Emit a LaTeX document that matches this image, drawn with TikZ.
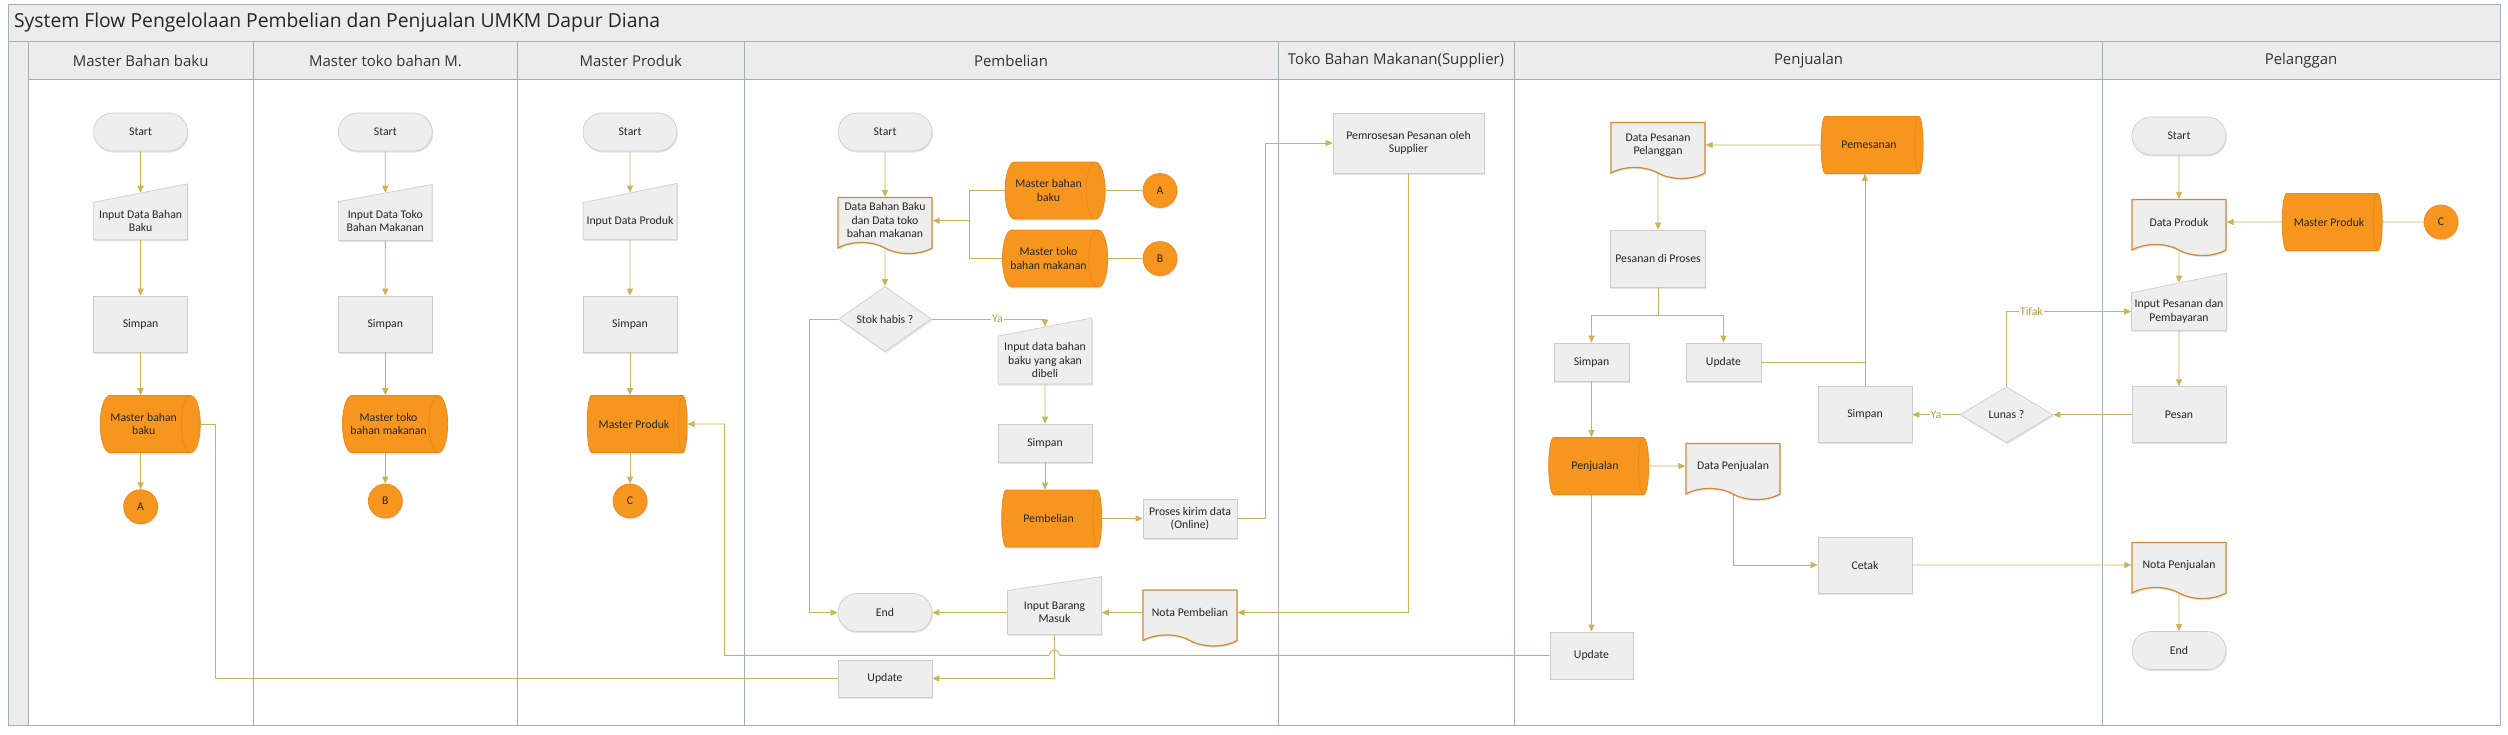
\documentclass[tikz,border=0pt]{standalone}
\usepackage{fontspec}
\setmainfont{Carlito}
\newfontfamily\headfont{Open Sans}
\usetikzlibrary{shapes.geometric,shapes.symbols,shadows,arrows.meta}

\definecolor{flow}{RGB}{201,180,88}
\definecolor{yatxt}{RGB}{184,160,64}
\definecolor{oranye}{RGB}{247,150,30}
\definecolor{oranyeline}{RGB}{232,137,22}
\definecolor{boxfill}{RGB}{238,238,238}
\definecolor{boxline}{RGB}{205,205,205}
\definecolor{docline}{RGB}{212,138,48}
\definecolor{laneline}{RGB}{163,175,180}
\definecolor{headfill}{RGB}{236,236,236}

\begin{document}
\begin{tikzpicture}[x=0.02cm, y=-0.02cm,
    every node/.style={font=\fontsize{6.7}{7.6}\selectfont, text=black!85, align=center, inner sep=1pt},
    boxshadow/.style={drop shadow={shadow xshift=0.5pt, shadow yshift=-0.9pt, opacity=0.22}},
    term/.style={rectangle, rounded corners=0.38cm, draw=boxline, fill=boxfill, minimum width=1.88cm, minimum height=0.76cm, boxshadow},
    proc/.style={rectangle, draw=boxline, fill=boxfill, minimum width=1.88cm, minimum height=1.12cm, boxshadow},
    manin/.style={trapezium, shape border rotate=90, trapezium left angle=90, trapezium right angle=78, trapezium stretches body, draw=boxline, fill=boxfill, minimum width=1.12cm, minimum height=1.88cm, boxshadow},
    docu/.style={tape, tape bend top=none, tape bend bottom=out and in, tape bend height=0.22cm, draw=docline, line width=0.7pt, fill=boxfill, minimum width=1.88cm, minimum height=1.12cm, boxshadow},
    cyl/.style={cylinder, shape aspect=0.75, draw=oranyeline, fill=oranye, minimum width=1.14cm, minimum height=2cm, boxshadow},
    con/.style={circle, fill=oranye, draw=oranyeline, minimum size=0.68cm, inner sep=0pt, boxshadow},
    dec/.style={diamond, draw=boxline, fill=boxfill, minimum width=1.86cm, minimum height=1.12cm, inner sep=0pt, boxshadow},
    arr/.style={draw=flow, line width=0.5pt, -{Triangle[length=4pt, width=3.5pt]}},
    ln/.style={draw=flow, line width=0.5pt},
    lbl/.style={fill=white, text=yatxt, inner sep=0.6pt},
    hd/.style={font=\headfont\fontsize{8.5}{10}\selectfont, text=black!80}]

    \useasboundingbox (0,0) rectangle (2508,734);

    \fill[headfill] (8.7,4) rectangle (2500,79.3);
    \fill[headfill] (8.7,41.7) rectangle (28,725.7);
    \draw[laneline] (8.7,4) rectangle (2500,725.7);
    \draw[laneline] (8.7,41.7) -- (2500,41.7);
    \draw[laneline] (28,79.3) -- (2500,79.3);
    \draw[laneline] (28,41.7) -- (28,725.7);
    \foreach \x in {253.5,517.6,744,1278,1514.6,2102.5}
        \draw[laneline] (\x,41.7) -- (\x,725.7);

    \node[anchor=west, font=\headfont\fontsize{11}{13}\selectfont, text=black!85] (judul) at (12,22) {System Flow Pengelolaan Pembelian dan Penjualan UMKM Dapur Diana};
    \foreach \x/\t [count=\i] in {140.7/Master Bahan baku, 385.5/Master toko bahan M., 630.8/Master Produk, 1011/Pembelian, 1396/Toko Bahan Makanan(Supplier), 1808.5/Penjualan, 2301/Pelanggan}
        \node[hd] (h\i) at (\x,60.5) {\t};

    \node[term] (s1) at (140.6,132) {Start};
    \node[manin] (in1) at (140.6,221) {Input Data Bahan\\Baku};
    \node[proc] (sp1) at (140.6,324) {Simpan};
    \node[cyl] (m1) at (143.7,424) {Master bahan\\baku};
    \node[con] (k1) at (140.6,506.7) {A};

    \node[term] (s2) at (385.3,132) {Start};
    \node[manin] (in2) at (385.3,221) {Input Data Toko\\Bahan Makanan};
    \node[proc] (sp2) at (385.3,324) {Simpan};
    \node[cyl] (m2) at (388.5,424) {Master toko\\bahan makanan};
    \node[con] (k2) at (385.3,501) {B};

    \node[term] (s3) at (630,132) {Start};
    \node[manin] (in3) at (630,221) {Input Data Produk};
    \node[proc] (sp3) at (630,324) {Simpan};
    \node[cyl] (m3) at (634,424) {Master Produk};
    \node[con] (k3) at (630,501) {C};

    \node[term] (sP) at (885,132) {Start};
    \node[docu] (dbb) at (885,220) {Data Bahan Baku\\dan Data toko\\bahan makanan};
    \node[cyl] (mbP) at (1048.5,190.5) {Master bahan\\baku};
    \node[cyl] (mtP) at (1048.5,258.5) {Master toko\\bahan makanan};
    \node[con] (AP) at (1160,190.5) {A};
    \node[con] (BP) at (1160,258.5) {B};
    \node[dec] (stok) at (885,319) {Stok habis ?};
    \node[manin, minimum width=1.32cm] (idb) at (1045,360) {Input data bahan\\baku yang akan\\dibeli};
    \node[proc, minimum height=0.76cm] (spP) at (1045,443) {Simpan};
    \node[cyl] (pbl) at (1048.5,518.5) {Pembelian};
    \node[proc, minimum height=0.78cm] (pk) at (1190,518.5) {Proses kirim data\\(Online)};
    \node[term] (endP) at (885,612.5) {End};
    \node[manin, minimum width=1.16cm] (ibm) at (1054.5,612.5) {Input Barang\\Masuk};
    \node[docu] (nota) at (1190,612.5) {Nota Pembelian};
    \node[proc, minimum height=0.74cm] (updB) at (885,678.5) {Update};

    \node[proc, minimum width=3.02cm, minimum height=1.2cm] (psup) at (1408.5,143) {Pemrosesan Pesanan oleh\\Supplier};

    \node[docu] (dpp) at (1658,145) {Data Pesanan\\Pelanggan};
    \node[cyl, minimum height=2.04cm] (pem) at (1869,145) {Pemesanan};
    \node[proc, minimum width=1.9cm, minimum height=1.14cm] (pdp) at (1658,258.5) {Pesanan di Proses};
    \node[proc, minimum width=1.5cm, minimum height=0.76cm] (spJ) at (1591.5,362) {Simpan};
    \node[proc, minimum width=1.5cm, minimum height=0.76cm] (updJ) at (1723.5,362) {Update};
    \node[cyl] (pjl) at (1595,466) {Penjualan};
    \node[docu] (dpj) at (1733,466) {Data Penjualan};
    \node[proc] (cetak) at (1865,565) {Cetak};
    \node[proc, minimum width=1.66cm, minimum height=0.94cm] (updP) at (1591.5,655.4) {Update};
    \node[proc] (spR) at (1865,414.7) {Simpan};
    \node[dec] (lunas) at (2006.5,414.7) {Lunas ?};

    \node[term] (sPl) at (2179,136) {Start};
    \node[docu] (dpr) at (2179,222) {Data Produk};
    \node[cyl] (mpr) at (2329,222) {Master Produk};
    \node[con] (cC) at (2441,222) {C};
    \node[manin, minimum width=1.14cm, minimum height=1.9cm] (ips) at (2179,311.5) {Input Pesanan dan\\Pembayaran};
    \node[proc] (pesan) at (2179,414.7) {Pesan};
    \node[docu] (npj) at (2179,565) {Nota Penjualan};
    \node[term] (endPl) at (2179,650.5) {End};

    \foreach \i in {1,2,3} {
        \draw[arr] (s\i) -- (in\i);
        \draw[arr] (in\i) -- (sp\i);
        \draw[arr] (sp\i) -- (sp\i |- m\i.north);
        \draw[arr] (sp\i |- m\i.south) -- (k\i);
    }

    \draw[arr] (sP) -- (dbb);
    \draw[ln] (AP) -- (mbP);
    \draw[ln] (BP) -- (mtP);
    \coordinate (jP) at (969.6,220.7);
    \draw[ln] (mbP.west) -| (jP) |- (mtP.west);
    \draw[arr] (jP) -- (jP -| dbb.east);
    \draw[arr] (dbb) -- (stok);
    \draw[arr] (stok.east) -| node[lbl, pos=0.29] (ya1) {Ya} (idb);
    \coordinate (kP) at (809,319);
    \draw[arr] (stok.west) -- (kP) |- (endP);
    \draw[arr] (idb) -- (spP);
    \draw[arr] (spP) -- (spP |- pbl.north);
    \draw[arr] (pbl) -- (pk);
    \coordinate (kS) at (1265,518.5);
    \draw[arr] (pk) -- (kS) |- (psup);
    \draw[arr] (psup) |- (nota);
    \draw[arr] (nota) -- (ibm);
    \draw[arr] (ibm) -- (endP);
    \draw[arr] (ibm) |- (updB);
    \coordinate (kB) at (215.7,678.5);
    \draw[ln] (updB) -- (kB) |- (m1);
    \coordinate (hop) at (1060,655.4);
    \coordinate (kM) at (724.6,655.4);
    \draw[arr] (updP) -- (hop) arc[start angle=0, end angle=-180, radius=5.5] -- (kM) |- (m3);

    \draw[arr] (pem) -- (dpp);
    \draw[arr] (dpp) -- (pdp);
    \coordinate (kJ) at (1658,315);
    \draw[ln] (pdp) -- (kJ);
    \draw[arr] (kJ) -| (spJ);
    \draw[arr] (kJ) -| (updJ);
    \draw[arr] (spJ) -- (spJ |- pjl.north);
    \draw[arr] (pjl) -- (dpj);
    \draw[arr] (spJ |- pjl.south) -- (updP);
    \draw[arr] (dpj) |- (cetak);
    \draw[arr] (cetak) -- (npj);
    \draw[ln] (updJ) -- (updJ -| spR);
    \draw[arr] (spR) -- (spR |- pem.south);
    \draw[arr] (lunas) -- node[lbl] (ya2) {Ya} (spR);
    \draw[arr] (lunas) |- node[lbl, pos=0.6] (tf) {Tifak} (ips);
    \draw[arr] (pesan) -- (lunas);

    \draw[arr] (sPl) -- (dpr);
    \draw[arr] (mpr) -- (dpr);
    \draw[ln] (cC) -- (mpr);
    \draw[arr] (dpr) -- (ips);
    \draw[arr] (ips) -- (pesan);
    \draw[arr] (npj) -- (endPl);
\end{tikzpicture}
\end{document}
